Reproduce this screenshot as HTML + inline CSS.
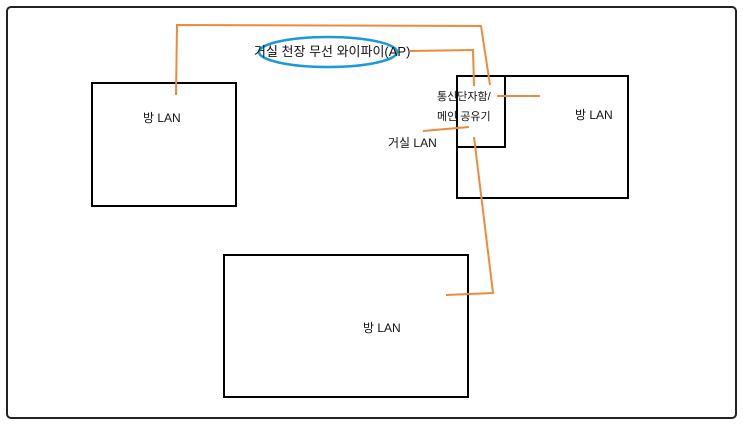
<!DOCTYPE html>
<html><head><meta charset="utf-8"><style>
html,body{margin:0;padding:0;background:#fff;}
svg text{font-family:"Liberation Sans","Noto Sans CJK KR",sans-serif;fill:#111;}
</style></head><body>
<svg width="743" height="425" viewBox="0 0 743 425" xmlns="http://www.w3.org/2000/svg">
<rect x="7" y="7" width="729" height="411" rx="4" fill="#fff" stroke="#222" stroke-width="2"/>
<rect x="92" y="83" width="144" height="123" fill="none" stroke="#000" stroke-width="2"/>
<rect x="457" y="76" width="171" height="122" fill="none" stroke="#000" stroke-width="2"/>
<rect x="457" y="76" width="48" height="71" fill="none" stroke="#000" stroke-width="2"/>
<rect x="224" y="255" width="244" height="142" fill="none" stroke="#000" stroke-width="2"/>
<ellipse cx="328" cy="52" rx="69" ry="15" fill="none" stroke="#1a9ad6" stroke-width="2.5"/>
<g fill="none" stroke="#f08a3a" stroke-width="2">
<polyline points="176,95 177,25 481,26 490,85"/>
<polyline points="410,51 473,50 474,86"/>
<line x1="497" y1="96" x2="540" y2="96"/>
<line x1="423" y1="131" x2="469" y2="127"/>
<polyline points="474,137 493,293 446,295"/>
</g>
<text x="254" y="56" font-size="13">거실 천장 무선 와이파이(AP)</text>
<text x="143" y="122" font-size="12">방 LAN</text>
<text x="437" y="100" font-size="11">통신단자함/</text>
<text x="437" y="120" font-size="11">메인 공유기</text>
<text x="388" y="147" font-size="12">거실 LAN</text>
<text x="575" y="119" font-size="12">방 LAN</text>
<text x="363" y="332" font-size="12">방 LAN</text>
</svg>
</body></html>
